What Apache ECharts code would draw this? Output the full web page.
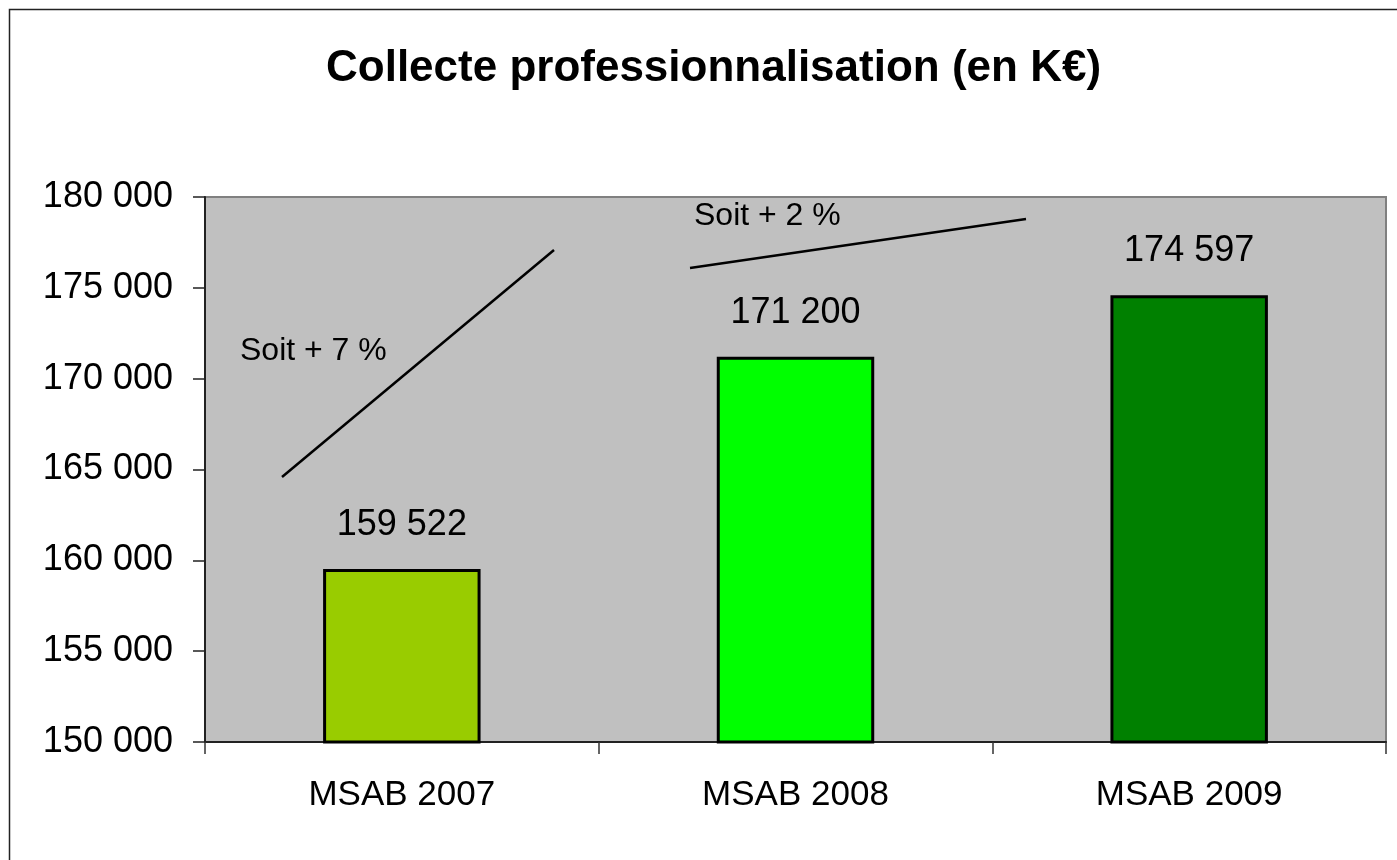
<!DOCTYPE html>
<html>
<head>
<meta charset="utf-8">
<title>Collecte professionnalisation</title>
<script src="https://cdn.jsdelivr.net/npm/echarts@6/dist/echarts.min.js"></script>
<style>
  html, body { margin: 0; padding: 0; background: #fff; }
  #main { width: 1397px; height: 860px; }
</style>
</head>
<body>
<div id="main"></div>
<script>
var categories = ['MSAB 2007', 'MSAB 2008', 'MSAB 2009'];
var collecte = [159522, 171200, 174597];
var barColors = ['#99CC00', '#00FF00', '#008000'];
var yTicks = [150000, 155000, 160000, 165000, 170000, 175000, 180000];

function fmt(v) {
    return String(v).replace(/\B(?=(\d{3})+(?!\d))/g, ' ');
}

var font = 'Liberation Sans, Arial, sans-serif';
var dom = document.getElementById('main');
var myChart = echarts.init(dom);

var option = {
    animation: false,
    backgroundColor: '#fff',
    title: {
        text: 'Collecte professionnalisation (en K€)',
        left: 321,
        top: 42,
        textStyle: {
            fontFamily: font,
            fontSize: 44,
            fontWeight: 'bold',
            color: '#000'
        }
    },
    grid: {
        left: 205,
        right: 11,
        top: 197,
        bottom: 118,
        show: true,
        backgroundColor: '#C0C0C0',
        borderColor: '#808080',
        borderWidth: 2
    },
    xAxis: {
        type: 'category',
        data: categories,
        axisLine: { lineStyle: { color: '#222', width: 2 } },
        axisTick: { show: true, length: 12, lineStyle: { color: '#333', width: 1.5 } },
        axisLabel: {
            margin: 36,
            fontFamily: font,
            fontSize: 35,
            color: '#000'
        }
    },
    yAxis: {
        type: 'value',
        min: yTicks[0],
        max: yTicks[yTicks.length - 1],
        interval: 5000,
        splitLine: { show: false },
        axisLine: { show: true, lineStyle: { color: '#222', width: 2 } },
        axisTick: { show: true, length: 12, lineStyle: { color: '#222', width: 1.5 } },
        axisLabel: {
            margin: 32,
            fontFamily: font,
            fontSize: 36,
            color: '#000',
            formatter: fmt
        }
    },
    series: [{
        type: 'bar',
        barWidth: '40%',
        data: collecte.map(function (v, i) {
            return { value: v, itemStyle: { color: barColors[i] } };
        }),
        itemStyle: { borderColor: '#000', borderWidth: 3 },
        label: {
            show: true,
            position: 'top',
            distance: 26,
            fontFamily: font,
            fontSize: 36,
            color: '#000',
            formatter: function (p) { return fmt(p.value); }
        }
    }],
    graphic: [
        {
            type: 'rect',
            shape: { x: 9.5, y: 9.5, width: 1500, height: 1000 },
            style: { fill: null, stroke: '#222', lineWidth: 1.5 },
            silent: true,
            z: 100
        },
        {
            type: 'line',
            shape: { x1: 282, y1: 477, x2: 554, y2: 250 },
            style: { stroke: '#000', lineWidth: 2.5 },
            z: 100
        },
        {
            type: 'text',
            left: 240,
            top: 335,
            style: { text: 'Soit + 7 %', font: '32px ' + font, fill: '#000' },
            z: 100
        },
        {
            type: 'line',
            shape: { x1: 690, y1: 268, x2: 1026, y2: 219 },
            style: { stroke: '#000', lineWidth: 2.5 },
            z: 100
        },
        {
            type: 'text',
            left: 694,
            top: 200,
            style: { text: 'Soit + 2 %', font: '32px ' + font, fill: '#000' },
            z: 100
        }
    ]
};

myChart.setOption(option, true);
</script>
</body>
</html>
